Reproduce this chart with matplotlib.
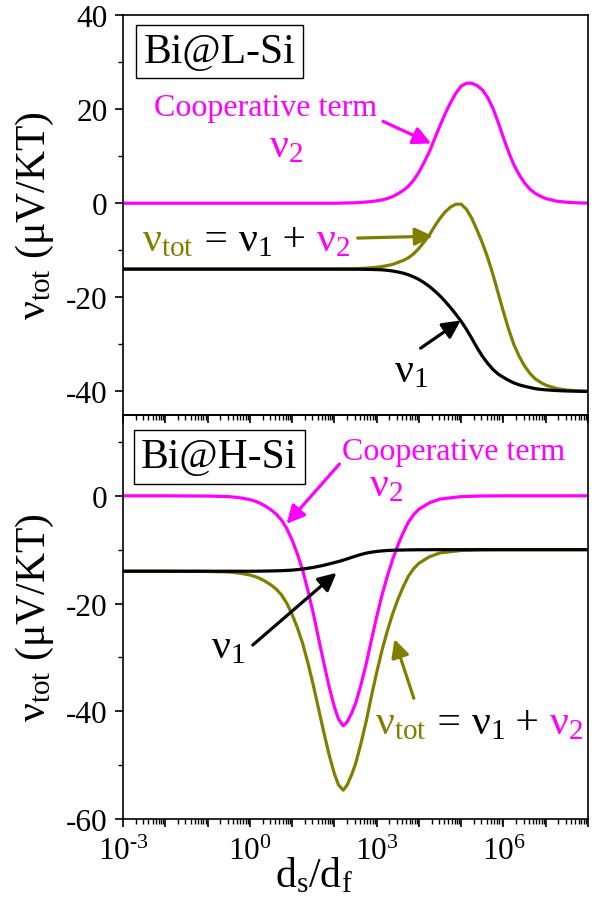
import numpy as np
import matplotlib.pyplot as plt
from matplotlib.ticker import FixedLocator, FuncFormatter, LogLocator, MultipleLocator, NullFormatter

# ---- data (x given as log10(ds/df)) ----
top_logx = [-3, -2, -1, 0, 1, 2, 2.5, 2.75,
            3.0, 3.125, 3.25, 3.375, 3.5, 3.625, 3.75, 3.875,
            4.0, 4.125, 4.25, 4.375, 4.5, 4.625, 4.75, 4.875,
            5.0, 5.125, 5.25, 5.375, 5.5, 5.625, 5.75, 5.875,
            6.0, 6.125, 6.25, 6.375, 6.5, 6.625, 6.75, 6.875,
            7.0, 7.25, 7.5, 7.75, 8.0]
top_v2 = [0, 0, 0, 0, 0, 0, 0.1, 0.25,
          0.5, 0.7, 1.0, 1.4, 2.0, 2.7, 3.6, 4.9,
          6.6, 8.7, 11.0, 13.8, 16.5, 19.1, 21.4, 23.4,
          24.9, 25.5, 25.5, 25.0, 24.1, 22.5, 20.2, 17.2,
          13.9, 10.8, 8.1, 6.0, 4.3, 3.0, 2.1, 1.5,
          1.0, 0.45, 0.2, 0.08, 0.03]
top_v1 = [-14, -14, -14, -14, -14, -14, -14.02, -14.05,
          -14.1, -14.15, -14.25, -14.4, -14.6, -14.85, -15.2, -15.65,
          -16.2, -16.9, -17.7, -18.65, -19.7, -20.9, -22.2, -23.6,
          -25.1, -26.8, -28.7, -30.7, -32.5, -34.0, -35.3, -36.3,
          -37.0, -37.65, -38.2, -38.6, -38.9, -39.15, -39.4, -39.55,
          -39.65, -39.8, -39.9, -39.95, -40.0]
top_vtot = [-14, -14, -14, -14, -14, -14, -13.92, -13.8,
            -13.6, -13.45, -13.25, -13.0, -12.6, -12.15, -11.6, -10.75,
            -9.6, -8.2, -6.7, -4.85, -3.2, -1.8, -0.8, -0.2,
            -0.2, -1.3, -3.2, -5.7, -8.4, -11.5, -15.1, -19.1,
            -23.1, -26.85, -30.1, -32.6, -34.6, -36.15, -37.3, -38.05,
            -38.65, -39.35, -39.7, -39.87, -39.97]

bot_logx = [-3, -2, -1, -0.5, -0.25, 0,
            0.125, 0.25, 0.375, 0.5, 0.625, 0.75, 0.875, 1.0,
            1.125, 1.25, 1.375, 1.5, 1.625, 1.75, 1.875, 2.0,
            2.1, 2.21, 2.3, 2.4,
            2.5, 2.625, 2.75, 2.875, 3.0, 3.125, 3.25, 3.375, 3.5, 3.625, 3.75, 3.875, 4.0,
            4.25, 4.5, 5.0, 5.5, 6.0, 7.0, 8.0]
bot_v2 = [0, 0, -0.05, -0.15, -0.35, -0.7,
          -1.0, -1.4, -1.95, -2.6, -3.4, -4.5, -6.1, -8.2,
          -10.8, -13.8, -17.6, -21.8, -26.4, -31.0, -35.4, -39.2,
          -41.5, -42.7, -42.0, -40.5,
          -38.6, -35.2, -31.3, -26.8, -22.5, -18.5, -15.0, -11.9, -9.2, -6.9, -4.9, -3.5, -2.5,
          -1.3, -0.6, -0.15, -0.03, 0, 0, 0]
bot_v1 = [-14, -14, -14, -14, -14, -14,
          -14.0, -13.98, -13.97, -13.95, -13.93, -13.9, -13.85, -13.8,
          -13.7, -13.6, -13.45, -13.3, -13.1, -12.9, -12.65, -12.4,
          -12.2, -11.95, -11.72, -11.45,
          -11.2, -10.9, -10.65, -10.47, -10.33, -10.23, -10.16, -10.11, -10.08, -10.06, -10.04, -10.03, -10.02,
          -10.01, -10.0, -10, -10, -10, -10, -10]
bot_vtot = [-14, -14, -14.05, -14.15, -14.35, -14.7,
            -15.0, -15.38, -15.92, -16.55, -17.33, -18.4, -19.95, -22.0,
            -24.5, -27.4, -31.05, -35.1, -39.5, -43.9, -48.05, -51.6,
            -53.7, -54.65, -53.72, -51.95,
            -49.8, -46.1, -41.95, -37.27, -32.83, -28.73, -25.16, -22.01, -19.28, -16.96, -14.94, -13.53, -12.52,
            -11.31, -10.6, -10.15, -10.03, -10, -10, -10]

panel_labels = ["Bi@L-Si", "Bi@H-Si"]
xtick_exps = list(range(-3, 9))
xlabel_exps = [-3, 0, 3, 6]

MAGENTA = "#ff00ff"
OLIVE = "#808000"
BLACK = "black"

plt.rcParams['font.family'] = ['Liberation Serif', 'DejaVu Serif']
plt.rcParams['mathtext.fontset'] = 'custom'
plt.rcParams['mathtext.rm'] = 'Liberation Serif'
plt.rcParams['mathtext.it'] = 'Liberation Serif'
plt.rcParams['mathtext.default'] = 'regular'
plt.rcParams['axes.unicode_minus'] = False

fig = plt.figure(figsize=(6.02, 9.03), dpi=100)
L, R = 123 / 602, 588 / 602
ax1 = fig.add_axes([L, 1 - 416 / 903, R - L, (416 - 16) / 903])
ax2 = fig.add_axes([L, 1 - 820 / 903, R - L, (820 - 416) / 903])
ax2.set_facecolor('none')

LW = 2.3
for ax, lx, v1, v2, vt in [(ax1, top_logx, top_v1, top_v2, top_vtot),
                           (ax2, bot_logx, bot_v1, bot_v2, bot_vtot)]:
    x = 10.0 ** np.array(lx)
    ax.plot(x, v2, color=MAGENTA, lw=LW)
    ax.plot(x, vt, color=OLIVE, lw=LW)
    ax.plot(x, v1, color=BLACK, lw=LW)
    ax.set_xscale('log')
    ax.set_xlim(1e-3, 1e8)
    ax.xaxis.set_major_locator(FixedLocator([10.0 ** e for e in xtick_exps]))
    ax.xaxis.set_minor_locator(LogLocator(base=10, subs=np.arange(2, 10), numticks=100))
    ax.xaxis.set_minor_formatter(NullFormatter())
    ax.yaxis.set_major_locator(MultipleLocator(20))
    ax.yaxis.set_minor_locator(MultipleLocator(10))
    ax.tick_params(which='both', direction='out', top=False, right=False, labelsize=22.5, width=1.2)
    ax.tick_params(which='major', length=6, pad=5)
    ax.tick_params(which='minor', length=3.5, width=1.0)
    for sp in ax.spines.values():
        sp.set_linewidth(1.2)
    ax.set_ylabel(r"$\nu_{tot}$ (μV/KT)", fontsize=30)
    ax.yaxis.set_label_coords(-0.145, 0.5)

ax1.set_ylim(-45, 40)
ax2.set_ylim(-60, 15)
ax1.xaxis.set_major_formatter(NullFormatter())
for t in ax1.xaxis.get_major_ticks() + ax1.xaxis.get_minor_ticks():
    t.tick1line.set_clip_on(False)


def xfmt(v, pos):
    e = int(round(np.log10(v)))
    if e not in xlabel_exps:
        return ""
    if e < 0:
        return r"$10^{\text{-}%d}$" % (-e)
    return r"$10^{%d}$" % e


ax2.xaxis.set_major_formatter(FuncFormatter(xfmt))
ax2.tick_params(axis='x', which='major', pad=7)
fig.text(314 / 602, 1 - 887 / 903, r"d$_s$/d$_f$", fontsize=30, ha='center', va='baseline')

# panel boxes
for ax, lab, yc in [(ax1, panel_labels[0], 0.909), (ax2, panel_labels[1], 0.896)]:
    ax.text(0.207, yc, lab, transform=ax.transAxes, fontsize=30, ha='center', va='center',
            bbox=dict(boxstyle='square,pad=0.18', fc='white', ec='black', lw=1.0))


def arrow(ax, x0, y0, x1, y1, color):
    ax.annotate("", xy=(10.0 ** x1, y1), xytext=(10.0 ** x0, y0),
                arrowprops=dict(arrowstyle='-|>', color=color, lw=2.3, mutation_scale=27,
                                shrinkA=0, shrinkB=0))


def pieces(ax, lx, y, items, size):
    fig.canvas.draw()
    r = fig.canvas.get_renderer()
    px, py = ax.transData.transform((10.0 ** lx, y))
    for s, c in items:
        dx, dy = ax.transData.inverted().transform((px, py))
        t = ax.text(dx, dy, s, color=c, fontsize=size, ha='left', va='baseline')
        px = t.get_window_extent(r).x1


NU = 30
CT = 23
# top panel annotations
ax1.text(10.0 ** -2.27, 18.8, "Cooperative term", color=MAGENTA, fontsize=CT, ha='left', va='baseline')
arrow(ax1, 3.15, 17.4, 4.29, 12.7, MAGENTA)
ax1.text(10.0 ** 0.46, 10.0, r"$\nu_2$", color=MAGENTA, fontsize=NU, ha='left', va='baseline')
pieces(ax1, -2.55, -9.9, [(r"$\nu_{tot}$", OLIVE), (" = ", BLACK), (r"$\nu_1$", BLACK),
                          (" + ", BLACK), (r"$\nu_2$", MAGENTA)], NU)
arrow(ax1, 2.55, -7.4, 4.33, -7.0, OLIVE)
ax1.text(10.0 ** 3.42, -37.9, r"$\nu_1$", color=BLACK, fontsize=NU, ha='left', va='baseline')
arrow(ax1, 4.04, -30.8, 4.99, -24.9, BLACK)

# bottom panel annotations
ax2.text(10.0 ** 2.19, 6.8, "Cooperative term", color=MAGENTA, fontsize=CT, ha='left', va='baseline')
arrow(ax2, 2.12, 5.9, 0.87, -5.2, MAGENTA)
ax2.text(10.0 ** 2.83, 0.1, r"$\nu_2$", color=MAGENTA, fontsize=NU, ha='left', va='baseline')
arrow(ax2, 0.07, -27.7, 2.05, -14.3, BLACK)
ax2.text(10.0 ** -0.91, -30.0, r"$\nu_1$", color=BLACK, fontsize=NU, ha='left', va='baseline')
arrow(ax2, 3.88, -37.6, 3.42, -26.6, OLIVE)
pieces(ax2, 2.96, -44.0, [(r"$\nu_{tot}$", OLIVE), (" = ", BLACK), (r"$\nu_1$", BLACK),
                          (" + ", BLACK), (r"$\nu_2$", MAGENTA)], NU)

fig.savefig("out.png", dpi=100)
